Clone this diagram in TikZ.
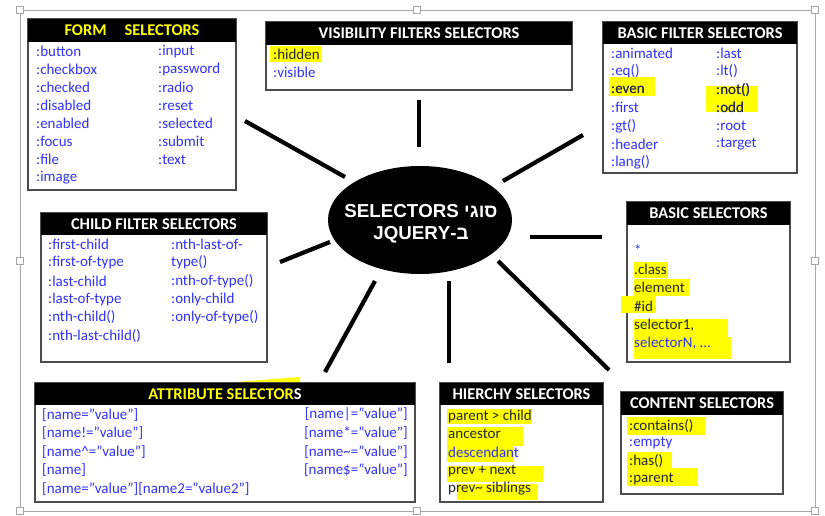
\documentclass[tikz,border=0pt]{standalone}
\usepackage{fontspec}
\setmainfont{Carlito}
\newfontfamily\hebfont[Script=Hebrew]{Liberation Sans}
\TeXXeTstate=1
\usetikzlibrary{fit,shapes.geometric}
\definecolor{selblue}{RGB}{50,50,245}
\definecolor{hlyellow}{RGB}{255,255,0}
\definecolor{framegray}{RGB}{165,165,165}

\begin{document}
\begin{tikzpicture}[
    x=0.03cm, y=-0.03cm,
    selbox/.style={draw=black!70, line width=1.1pt, fill=white, inner sep=0pt},
    headbar/.style={fill=black, inner sep=0pt},
    htitle/.style={text=white, font=\fontsize{14}{16}\selectfont\bfseries, inner sep=0pt},
    item/.style={anchor=west, inner sep=0pt, text=selblue, font=\fontsize{12.8}{15}\selectfont},
    itemr/.style={item, anchor=east},
    hitem/.style={item, text=black!85},
    hl/.style={fill=hlyellow},
    ray/.style={line width=3.6pt, black},
    handle/.style={draw=framegray, fill=white, line width=0.6pt, minimum size=6pt, inner sep=0pt}
]
\useasboundingbox (0,0) rectangle (825,516);

% outer frame with handles
\draw[framegray, line width=0.7pt] (20,10) rectangle (815,511);
\node[handle] (h1) at (20,10) {};
\node[handle] (h2) at (417,10) {};
\node[handle] (h3) at (815,10) {};
\node[handle] (h4) at (20,261) {};
\node[handle] (h5) at (815,261) {};
\node[handle] (h6) at (20,511) {};
\node[handle] (h7) at (417,511) {};
\node[handle] (h8) at (815,511) {};

% centre
\node[ellipse, fill=black, minimum width=184*0.03cm, minimum height=108*0.03cm, inner sep=0pt] (hub) at (420,220) {};
\node[text=white, font=\hebfont\fontsize{16}{18.5}\selectfont\bfseries, align=center] (hubtxt) at (421,224)
  {\beginR סוגי SELECTORS\endR\\ \beginR ב-\beginL JQUERY\endL\endR};

% rays
\coordinate (r1a) at (245,121); \coordinate (r1b) at (345,177);
\coordinate (r2a) at (419,100); \coordinate (r2b) at (419,147);
\coordinate (r3a) at (503,181); \coordinate (r3b) at (583,135);
\coordinate (r4a) at (530,237); \coordinate (r4b) at (602,237);
\coordinate (r5a) at (498,261); \coordinate (r5b) at (609,370);
\coordinate (r6a) at (449,281); \coordinate (r6b) at (449,363);
\coordinate (r7a) at (375,281); \coordinate (r7b) at (325,372);
\coordinate (r8a) at (330,242); \coordinate (r8b) at (280,262);
\foreach \r in {1,...,8}
  \draw[ray] (r\r a) -- (r\r b);

% form selectors
\node[selbox, fit={(28,19) (236,190)}] (form) {};
\node[headbar, fit={(28,19) (236,42)}] (formhead) {};
\node[htitle, text=hlyellow] (formtitle) at (formhead.center) {FORM\hspace{1.1em}SELECTORS};
\foreach \t [count=\i] in {:button,:checkbox,:checked,:disabled,:enabled,:focus,:file,:image}
  \node[item] (fa\i) at (36,33+18.1*\i) {\t};
\foreach \t [count=\i] in {:input,:password,:radio,:reset,:selected,:submit,:text}
  \node[item] (fb\i) at (158,33+18.1*\i) {\t};

% visibility filters
\node[selbox, fit={(266,22) (572,90)}] (vis) {};
\node[headbar, fit={(266,22) (572,45)}] (vishead) {};
\node[htitle] (vistitle) at (vishead.center) {VISIBILITY FILTERS SELECTORS};
\fill[hl] (270,46) rectangle (322,62);
\node[hitem] (va) at (273,54) {:hidden};
\node[item] (vb) at (273,72) {:visible};

% basic filters
\node[selbox, fit={(603,22) (797,173)}] (bfil) {};
\node[headbar, fit={(603,22) (797,44)}] (bfilhead) {};
\node[htitle] (bfiltitle) at (bfilhead.center) {BASIC FILTER SELECTORS};
\fill[hl] (609,77) rectangle (655,96);
\fill[hl] (706,86) rectangle (758,112);
\foreach \t [count=\i] in {:animated,:eq(),:even,:first,:gt(),:header,:lang()}
  \node[item] (ba\i) at (611,35+18.2*\i) {\t};
\node[hitem] (ba3x) at (ba3.west) [anchor=west] {:even};
\foreach \t [count=\i] in {:last,:lt(),:not(),:odd,:root,:target}
  \node[item] (bb\i) at (716,35+18.2*\i) {\t};
\node[hitem] (bb3x) at (bb3.west) [anchor=west] {:not()};
\node[hitem] (bb4x) at (bb4.west) [anchor=west] {:odd};

% child filters
\node[selbox, fit={(41,213) (267,362)}] (child) {};
\node[headbar, fit={(41,213) (267,235)}] (childhead) {};
\node[htitle] (childtitle) at (childhead.center) {CHILD FILTER SELECTORS};
\foreach \t [count=\i] in {:first-child,:first-of-type,:last-child,:last-of-type,:nth-child(),:nth-last-child()}
  \node[item] (ca\i) at (48,226+18.3*\i) {\t};
\foreach \t [count=\i] in {:nth-last-of-,type(),:nth-of-type(),:only-child,:only-of-type()}
  \node[item] (cb\i) at (171,226+18.3*\i) {\t};

% basic selectors
\node[selbox, fit={(627,202) (790,362)}] (basic) {};
\node[headbar, fit={(627,202) (790,225)}] (basichead) {};
\node[htitle] (basictitle) at (basichead.center) {BASIC SELECTORS};
\fill[hl] (634,262) rectangle (668,278);
\fill[hl] (634,279) rectangle (690,296);
\fill[hl] (621,296) rectangle (656,313);
\fill[hl] (634,319) rectangle (728,337);
\fill[hl] (634,337) rectangle (731,359);
\node[item] (bs1) at (634,250) {*};
\node[hitem] (bs2) at (634,269) {.class};
\node[hitem] (bs3) at (634,287) {element};
\node[hitem] (bs4) at (634,306) {\#id};
\node[hitem] (bs5) at (634,325) {selector1,};
\node[item] (bs6) at (634,343) {selectorN, ...};

% attribute selectors
\fill[hl] (210,384) -- (300,377) -- (300,384) -- cycle;
\node[selbox, fit={(35,383) (415,502)}] (attr) {};
\node[headbar, fit={(35,383) (415,405)}] (attrhead) {};
\node[htitle, text=hlyellow] (attrtitle) at (attrhead.center) {ATTRIBUTE SELECTOR\textcolor{white}{S}};
\foreach \t [count=\i] in {[name="value"],[name!="value"],[name\textasciicircum="value"],[name],[name="value"][name2="value2"]}
  \node[item] (aa\i) at (42,396+18.6*\i) {\t};
\foreach \t [count=\i] in {[name|="value"],[name*="value"],[name\textasciitilde="value"],[name\$="value"]}
  \node[itemr] (ab\i) at (408,396+18.6*\i) {\t};

% hierarchy selectors
\node[selbox, fit={(440,383) (603,502)}] (hier) {};
\node[headbar, fit={(440,383) (603,405)}] (hierhead) {};
\node[htitle] (hiertitle) at (hierhead.center) {HIERCHY SELECTORS};
\fill[hl] (447,409) rectangle (532,424);
\fill[hl] (447,427) rectangle (523,446);
\fill[hl] (447,446) rectangle (514,462);
\fill[hl] (447,466) rectangle (543,482);
\fill[hl] (457,484) rectangle (538,500);
\node[hitem] (hs1) at (448,416) {parent > child};
\node[hitem] (hs2) at (448,434) {ancestor};
\node[item] (hs3) at (448,452) {descendant};
\node[hitem] (hs4) at (448,471) {prev + next};
\node[hitem] (hs5) at (448,489) {prev\textasciitilde{} siblings};

% content selectors
\node[selbox, fit={(621,392) (783,494)}] (cont) {};
\node[headbar, fit={(621,392) (783,415)}] (conthead) {};
\node[htitle] (conttitle) at (conthead.center) {CONTENT SELECTORS};
\fill[hl] (627,417) rectangle (705,435);
\fill[hl] (627,452) rectangle (672,468);
\fill[hl] (627,468) rectangle (698,486);
\node[hitem] (cs1) at (629,426) {:contains()};
\node[item] (cs2) at (629,443) {:empty};
\node[hitem] (cs3) at (629,461) {:has()};
\node[hitem] (cs4) at (629,479) {:parent};
\end{tikzpicture}
\end{document}
